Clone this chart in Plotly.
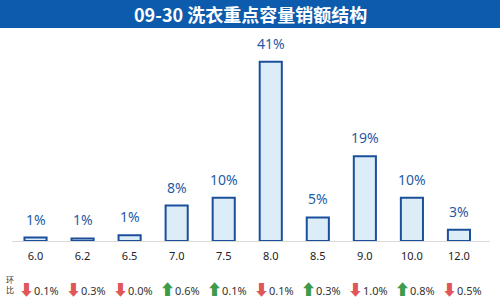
import plotly.graph_objects as go

categories = ["6.0", "6.2", "6.5", "7.0", "7.5", "8.0", "8.5", "9.0", "10.0", "12.0"]
share_values = [0.8, 0.6, 1.3, 8.1, 9.9, 41.0, 5.4, 19.4, 9.9, 2.6]
share_labels = ["1%", "1%", "1%", "8%", "10%", "41%", "5%", "19%", "10%", "3%"]
mom_direction = ["down", "down", "down", "up", "up", "down", "up", "down", "up", "down"]
mom_change = ["0.1%", "0.3%", "0.0%", "0.6%", "0.1%", "0.1%", "0.3%", "1.0%", "0.8%", "0.5%"]
title_text = "09-30 洗衣重点容量销额结构"

FONT = "Noto Sans, Noto Sans CJK SC, sans-serif"

fig = go.Figure()
fig.add_trace(go.Bar(
    x=categories, y=share_values,
    marker=dict(color="#ddedf7", line=dict(color="#1b4f9c", width=2)),
    width=0.47, hoverinfo="skip",
))

annotations = []
for i, (v, lab) in enumerate(zip(share_values, share_labels)):
    annotations.append(dict(
        x=i, y=v, xref="x", yref="y", text=lab, showarrow=False,
        xanchor="center", yanchor="bottom", yshift=7,
        font=dict(family=FONT, size=14, color="#1f5ba6"),
    ))

for i, (d, ch) in enumerate(zip(mom_direction, mom_change)):
    if d == "up":
        arrow = "<span style='color:#3d9b4c;font-size:15px'>⬆</span>"
    else:
        arrow = "<span style='color:#e0575a;font-size:15px'>⬇</span>"
    annotations.append(dict(
        x=i, y=289, xref="x", yref="paper", text=arrow + ch, showarrow=False,
        xanchor="center", yanchor="middle", xshift=3,
        font=dict(family=FONT, size=11, color="#333333"),
    ))

# row label
annotations.append(dict(
    x=10, y=284, text="环<br>比", showarrow=False,
    xanchor="center", yanchor="middle",
    font=dict(family="Noto Sans CJK SC", size=8, color="#333333"),
))

# title
annotations.append(dict(
    x=250, y=14, text="<b>" + title_text + "</b>", showarrow=False,
    xanchor="center", yanchor="middle",
    font=dict(family="Noto Sans CJK SC", size=18, color="#ffffff"),
))

# Convert pixel-based annotations to paper coords
H, W = 301, 500
L, R, T, B = 12, 10, 40, 60
pw, ph = W - L - R, H - T - B
for a in annotations:
    if a.get("yref") == "paper":
        a["y"] = (H - B - a["y"]) / ph
    elif "yref" not in a:
        a["xref"] = "paper"; a["yref"] = "paper"
        a["x"] = (a["x"] - L) / pw
        a["y"] = (H - B - a["y"]) / ph

shapes = [dict(
    type="rect", xref="paper", yref="paper",
    x0=-L / pw, x1=(W - L) / pw, y0=(H - B - 28) / ph, y1=(H - B) / ph + 1,
    fillcolor="#0d5bad", line=dict(width=0), layer="below",
)]

fig.update_layout(
    width=W, height=H,
    margin=dict(l=L, r=R, t=T, b=B),
    paper_bgcolor="white", plot_bgcolor="white",
    showlegend=False,
    xaxis=dict(
        type="category", range=[-0.5, 9.66],
        showgrid=False, showline=True, linecolor="#d9d9d9", linewidth=1,
        ticks="", tickfont=dict(family=FONT, size=11, color="#222222"),
        ticklabelstandoff=5, fixedrange=True,
    ),
    yaxis=dict(range=[0, 46], visible=False, fixedrange=True),
    annotations=annotations,
    shapes=shapes,
)

fig.write_html("out.html")
